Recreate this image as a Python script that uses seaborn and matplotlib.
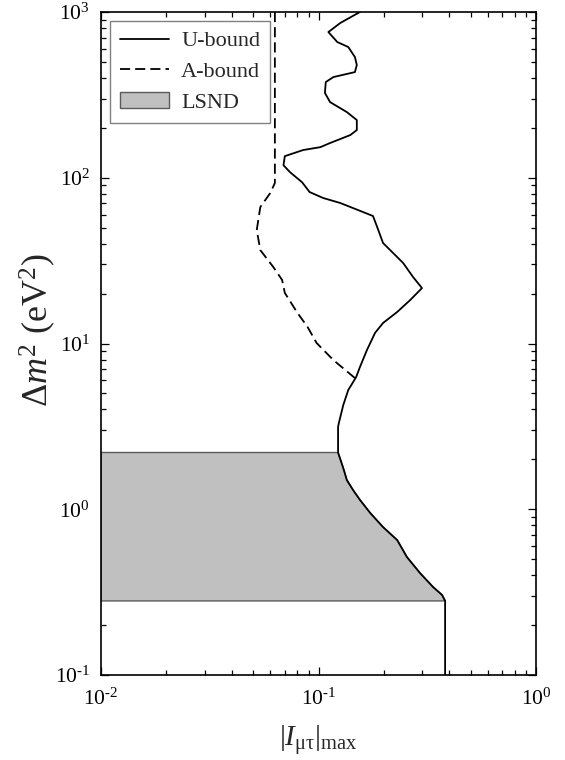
import numpy as np
import matplotlib
matplotlib.use("Agg")
import matplotlib.pyplot as plt
from matplotlib.lines import Line2D
from matplotlib.patches import Patch
import seaborn as sns

# U-bound curve (|I_mu tau|_max, Delta m^2 in eV^2), read top to bottom
u_x = [0.155, 0.126, 0.111, 0.122, 0.137, 0.147, 0.150, 0.147, 0.117, 0.108,
       0.107, 0.113, 0.135, 0.150, 0.150, 0.140, 0.113, 0.102, 0.085, 0.070,
       0.069, 0.074, 0.084, 0.091, 0.105, 0.126, 0.178, 0.186, 0.198, 0.245,
       0.272, 0.299, 0.264, 0.230, 0.198, 0.182, 0.167, 0.155, 0.149, 0.137,
       0.130, 0.124, 0.123, 0.123, 0.130, 0.135, 0.144, 0.155, 0.173, 0.198,
       0.230, 0.255, 0.293, 0.336, 0.370, 0.382, 0.382]
u_y = [1000, 859, 757, 659, 615, 535, 479, 434, 405, 378,
       325, 286, 249, 223, 194, 181, 162, 153, 147, 135,
       119, 108, 94, 82, 75.5, 70.4, 58.8, 50.5, 40.4, 30.6,
       25.2, 21.6, 18.3, 15.5, 13.3, 11.6, 9.14, 7.21, 6.28, 5.24,
       4.26, 3.31, 3.14, 2.2, 1.77, 1.50, 1.31, 1.14, 0.949, 0.781,
       0.652, 0.515, 0.412, 0.340, 0.304, 0.28, 0.1]

# A-bound curve
a_x = [0.063, 0.063, 0.060, 0.054, 0.052, 0.054, 0.062, 0.068, 0.070, 0.080,
       0.089, 0.098, 0.117, 0.147]
a_y = [1000, 93, 80.9, 66.6, 48.4, 36.6, 28.9, 24.2, 20.2, 15.3,
       12.6, 10.07, 7.95, 6.19]

# LSND allowed Delta m^2 range
lsnd_low = 0.28
lsnd_high = 2.2

x_ticks = [1e-2, 1e-1, 1e0]
x_tick_labels = [r'$10^{\text{-}2}$', r'$10^{\text{-}1}$', r'$10^{0}$']
y_ticks = [1e-1, 1e0, 1e1, 1e2, 1e3]
y_tick_labels = [r'$10^{\text{-}1}$', r'$10^{0}$', r'$10^{1}$', r'$10^{2}$', r'$10^{3}$']

x_min, x_max = 1e-2, 1e0
y_min, y_max = 1e-1, 1e3

sns.set_style("ticks")
plt.rcParams['font.family'] = ['Liberation Serif', 'DejaVu Serif']
plt.rcParams['mathtext.fontset'] = 'custom'
plt.rcParams['mathtext.rm'] = 'Liberation Serif'
plt.rcParams['mathtext.it'] = 'Liberation Serif:italic'
plt.rcParams['mathtext.bf'] = 'Liberation Serif:bold'
plt.rcParams['axes.unicode_minus'] = False

fig = plt.figure(figsize=(5.65, 7.6), dpi=100)
ax = fig.add_axes([0.1788, 0.1118, 0.7699, 0.8724])

# LSND band, bounded on the right by the U-bound curve
ux = np.array(u_x)
uy = np.array(u_y)
mask = (uy >= lsnd_low) & (uy <= lsnd_high)
poly_x = np.concatenate([[x_min], ux[mask], [x_min]])
poly_y = np.concatenate([[lsnd_high], uy[mask], [lsnd_low]])
ax.fill(poly_x, poly_y, facecolor='#c0c0c0', edgecolor='#5a5a5a', lw=1.0, zorder=1)

sns.lineplot(x=u_x, y=u_y, sort=False, estimator=None, color='black', lw=1.3,
             ax=ax, zorder=3)
sns.lineplot(x=a_x, y=a_y, sort=False, estimator=None, color='black', lw=1.3,
             linestyle=(0, (5.6, 2.8)), ax=ax, zorder=3)

ax.set_xscale('log')
ax.set_yscale('log')
ax.set_xlim(x_min, x_max)
ax.set_ylim(y_min, y_max)
ax.set_xticks(x_ticks)
ax.set_xticklabels(x_tick_labels)
ax.set_yticks(y_ticks)
ax.set_yticklabels(y_tick_labels)

for s in ax.spines.values():
    s.set_linewidth(1.2)
    s.set_color('black')
ax.tick_params(which='both', direction='in', top=True, right=True,
               colors='black', labelsize=15.5, width=0.9)
ax.tick_params(which='major', length=6, pad=8)
ax.tick_params(axis='x', which='major', pad=10)
ax.tick_params(which='minor', length=3.5)

ax.set_xlabel(r'$|I_{\mathrm{\mu\tau}}|_{\mathrm{max}}$', fontsize=21, labelpad=9)
ax.set_ylabel(r'$\mathrm{\Delta}m^2$ (eV$^2$)', fontsize=26)
ax.yaxis.set_label_coords(-0.098, 0.52)

handles = [
    Line2D([], [], color='black', lw=1.3),
    Line2D([], [], color='black', lw=1.3, linestyle=(0, (5.6, 2.8))),
    Patch(facecolor='#c0c0c0', edgecolor='#5a5a5a', lw=1.0),
]
leg = ax.legend(handles, ['U-bound', 'A-bound', 'LSND'], loc='upper left',
                fontsize=16, frameon=True, fancybox=False, framealpha=1,
                edgecolor='#808080', borderaxespad=0.4, handlelength=2.2,
                handletextpad=0.55, labelspacing=0.45, borderpad=0.45)
leg.get_frame().set_linewidth(1.0)

fig.savefig('out.png', dpi=100)
